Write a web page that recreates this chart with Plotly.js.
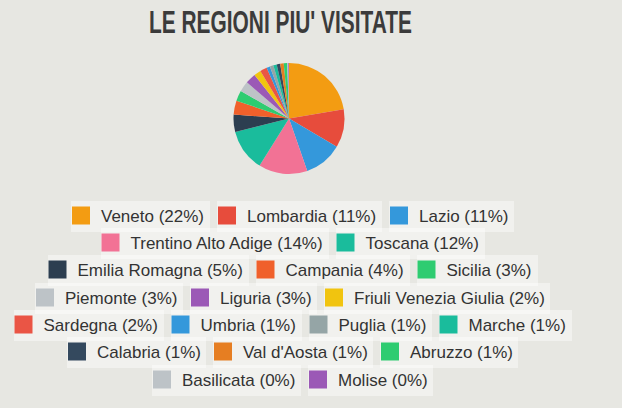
<!DOCTYPE html>
<html><head><meta charset="utf-8">
<script src="https://cdn.plot.ly/plotly-3.0.1.min.js"></script>
<style>html,body{margin:0;padding:0;background:#fff;} #chart{width:635px;height:413px;}</style>
</head><body><div id="chart"></div>
<script>
// ---- data ----
const regions = ['Veneto','Lombardia','Lazio','Trentino Alto Adige','Toscana','Emilia Romagna','Campania','Sicilia','Piemonte','Liguria','Friuli Venezia Giulia','Sardegna','Umbria','Puglia','Marche','Calabria',"Val d'Aosta",'Abruzzo','Basilicata','Molise'];
const shares = [22,11,11,14,12,5,4,3,3,3,2,2,1,1,1,1,1,1,0.3,0.2];
const titleText = "LE REGIONI PIU' VISITATE";

// ---- style ----
const colors = ['#f39c12','#e74c3c','#3498db','#f27295','#1abc9c','#2c3e50','#f0602b','#2ecc71','#bdc3c7','#9b59b6','#f1c40f','#ea5545','#3498db','#95a5a6','#1abc9c','#34495e','#e67e22','#2ecc71','#bdc3c7','#9b59b6'];
const rows = [[0,1,2],[3,4],[5,6,7],[8,9,10],[11,12,13,14],[15,16,17],[18,19]];
const rowY = [216,243,270,298,325,352,380];
const rowCX = 292.5, gap = 7;
const PW = 622, PH = 408;
const titleWidth = 263;

const labels = regions.map((r,i)=> r + ' (' + Math.round(shares[i]) + '%)');
const legId = i => i===0 ? 'legend' : 'legend'+(i+1);

const traces = [{
  type:'pie', labels: regions, values: shares, sort:false, direction:'clockwise', rotation:0,
  marker:{colors: colors, line:{width:0}}, textinfo:'none', hoverinfo:'none', showlegend:false,
  domain:{x:[233.5/PW, 344.5/PW], y:[(PH-174)/PH, (PH-63)/PH]}
}];
regions.forEach((r,i)=>{
  traces.push({type:'scatter', mode:'markers', x:[null], y:[null], name: labels[i],
    marker:{symbol:'square', size:16, color:colors[i], line:{width:2, color:colors[i]}},
    legend: legId(i), showlegend:true, hoverinfo:'none'});
});

const layout = {
  width:635, height:413,
  margin:{l:0,r:13,t:0,b:5,pad:0},
  paper_bgcolor:'#ffffff', plot_bgcolor:'#e7e7e2',
  xaxis:{visible:false, fixedrange:true}, yaxis:{visible:false, fixedrange:true},
  hovermode:false,
  title:{text:titleText, x:280.5/635, xanchor:'center', xref:'container', y:1-21.5/413, yanchor:'middle', yref:'container',
    font:{family:'Liberation Sans, Arial, sans-serif', size:32, color:'#3b3b3b', weight:700}},
  showlegend:true
};
rows.forEach((row,ri)=>{
  row.forEach((idx,k)=>{
    layout[legId(idx)] = {
      x: (rowCX + (k - (row.length-1)/2)*130)/PW, xanchor:'center', xref:'paper',
      y: 1 - rowY[ri]/PH, yanchor:'middle', yref:'paper',
      orientation:'h', bgcolor:'rgba(255,255,255,0.42)', borderwidth:0,
      font:{family:'Liberation Sans, Arial, sans-serif', size:17, color:'#333333'},
      indentation:-10, itemwidth:30, itemclick:false, itemdoubleclick:false
    };
  });
});

function finish(){
  // condense the title text to the reference's narrow lettering
  const t = gd.querySelector('.infolayer .gtitle');
  if (t) { t.setAttribute('textLength', titleWidth); t.setAttribute('lengthAdjust', 'spacingAndGlyphs'); }
  // slightly shorter background boxes behind each legend entry
  gd.querySelectorAll('.infolayer g[class^="legend"] > rect.bg').forEach(r=>{
    const h = parseFloat(r.getAttribute('height'));
    const y = parseFloat(r.getAttribute('y') || 0);
    if (h > 8) { r.setAttribute('y', y + 2.5); r.setAttribute('height', h - 5); }
  });
}

const gd = document.getElementById('chart');
Plotly.newPlot(gd, traces, layout, {displayModeBar:false}).then(()=>{
  const upd = {};
  rows.forEach((row)=>{
    const ws = row.map(idx => gd._fullLayout[legId(idx)]._width || 120);
    const total = ws.reduce((a,b)=>a+b,0) + gap*(row.length-1);
    let x = rowCX - total/2;
    row.forEach((idx,k)=>{
      upd[legId(idx)+'.x'] = (x + ws[k]/2)/PW;
      x += ws[k] + gap;
    });
  });
  return Plotly.relayout(gd, upd);
}).then(finish);
</script>
</body></html>
